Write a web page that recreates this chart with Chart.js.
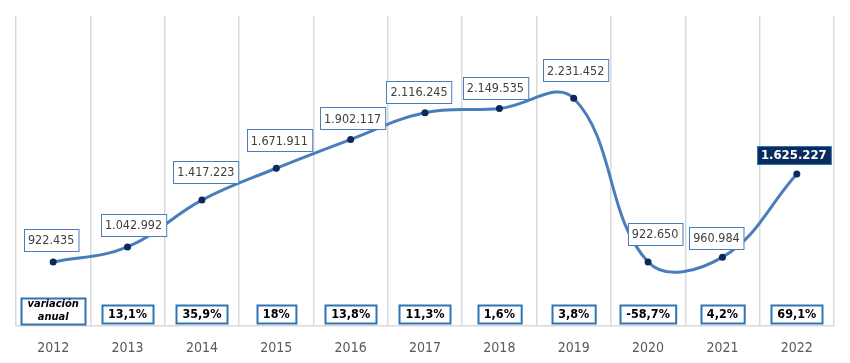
<!DOCTYPE html>
<html>
<head>
<meta charset="utf-8">
<script src="https://cdn.jsdelivr.net/npm/chart.js@4.4.0/dist/chart.umd.min.js"></script>
<style>
  html, body { margin: 0; padding: 0; background: #ffffff; }
  #wrap { width: 850px; height: 363px; }
</style>
</head>
<body>
<div id="wrap"><canvas id="grafico"></canvas></div>
<script>
// datos
var anios = ['2012', '2013', '2014', '2015', '2016', '2017', '2018', '2019', '2020', '2021', '2022'];
var valores = [922435, 1042992, 1417223, 1671911, 1902117, 2116245, 2149535, 2231452, 922650, 960984, 1625227];
var variaciones = ['', '13,1%', '35,9%', '18%', '13,8%', '11,3%', '1,6%', '3,8%', '-58,7%', '4,2%', '69,1%'];

// desplazamiento de las etiquetas (x, y) respecto al punto
var desplEtiquetas = [[-2, -22], [6, -22], [4, -28], [3, -28], [2, -21], [-6, -21], [-4, -21], [2, -28], [7, -28], [-6, -19], [-3, -19]];

var fuente = '"DejaVu Sans Condensed", "DejaVu Sans"';

function formatoMiles(v) {
    return v.toString().replace(/\B(?=(\d{3})+(?!\d))/g, '.');
}

function caja(ctx, cx, cy, w, h, fondo, borde, grosor) {
    var x = Math.round(cx - w / 2) + 0.5, y = Math.round(cy - h / 2) + 0.5;
    ctx.fillStyle = fondo;
    ctx.fillRect(x, y, w, h);
    ctx.strokeStyle = borde;
    ctx.lineWidth = grosor;
    ctx.strokeRect(x, y, w, h);
}

var etiquetasPlugin = {
    id: 'etiquetas',
    afterDatasetsDraw: function(chart) {
        var ctx = chart.ctx;
        var meta = chart.getDatasetMeta(0);
        var ultimo = valores.length - 1;
        ctx.save();
        ctx.textAlign = 'center';
        ctx.textBaseline = 'middle';

        // etiquetas de valores
        meta.data.forEach(function(p, i) {
            var txt = formatoMiles(valores[i]);
            var cx = p.x + desplEtiquetas[i][0];
            var cy = p.y + desplEtiquetas[i][1];
            if (i === ultimo) {
                ctx.font = 'bold 13px ' + fuente;
                var w = ctx.measureText(txt).width + 8;
                caja(ctx, cx, cy, w, 18, '#0b2a5e', '#2e75b6', 1);
                ctx.fillStyle = '#ffffff';
            } else {
                ctx.font = '12.5px ' + fuente;
                var w2 = ctx.measureText(txt).width + 8;
                caja(ctx, cx, cy, w2, 22, '#ffffff', '#4a7ebb', 1);
                ctx.fillStyle = '#404040';
            }
            ctx.fillText(txt, cx, cy + 1);
        });

        // fila de variación anual
        var xs = chart.scales.x;
        var fy = chart.chartArea.bottom - 12;
        variaciones.forEach(function(v, i) {
            var cx = xs.getPixelForValue(i);
            if (i === 0) {
                caja(ctx, cx, fy - 3, 64, 26, '#ffffff', '#2e75b6', 2);
                ctx.fillStyle = '#000000';
                ctx.font = 'italic bold 11px ' + fuente;
                ctx.fillText('variación', cx, fy - 10);
                ctx.fillText('anual', cx, fy + 3);
            } else {
                ctx.font = 'bold 12.5px ' + fuente;
                var w = ctx.measureText(v).width + 12;
                caja(ctx, cx, fy, w, 18, '#ffffff', '#2e75b6', 2);
                ctx.fillStyle = '#000000';
                ctx.fillText(v, cx, fy + 1);
            }
        });
        ctx.restore();
    }
};

var ctx_grafico = document.getElementById('grafico').getContext('2d');
var grafico = new Chart(ctx_grafico, {
    type: 'line',
    data: {
        labels: anios,
        datasets: [{
            data: valores,
            borderColor: '#4a7ebb',
            borderWidth: 3,
            tension: 0.4,
            pointRadius: 3.5,
            pointBackgroundColor: '#0c2a5b',
            pointBorderColor: '#0c2a5b',
            pointBorderWidth: 0
        }]
    },
    options: {
        responsive: true,
        maintainAspectRatio: false,
        animation: false,
        layout: {
            padding: { left: 16, right: 16, top: 16, bottom: 0 }
        },
        plugins: {
            legend: { display: false },
            tooltip: { enabled: false }
        },
        scales: {
            x: {
                offset: true,
                grid: {
                    offset: true,
                    color: '#d9d9d9',
                    lineWidth: 1.5,
                    drawTicks: false
                },
                border: { color: '#d9d9d9', width: 1.5 },
                ticks: {
                    color: '#595959',
                    padding: 14,
                    font: { family: fuente, size: 14 }
                },
                afterFit: function(axis) {
                    axis.height = 37;
                }
            },
            y: {
                display: false,
                min: 410000,
                max: 2890000
            }
        }
    },
    plugins: [etiquetasPlugin]
});
</script>
</body>
</html>
